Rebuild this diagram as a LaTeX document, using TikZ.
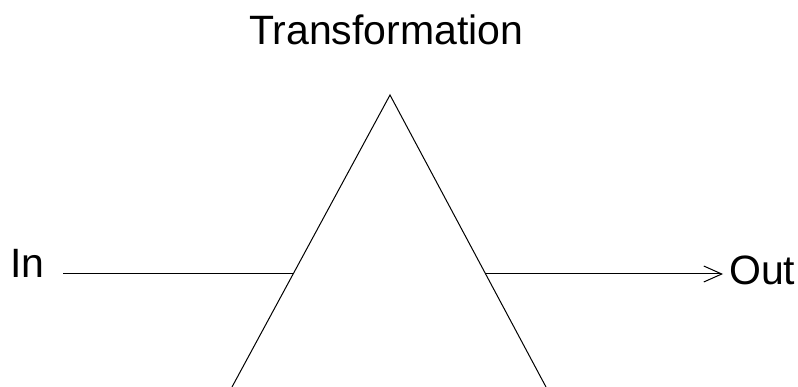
\documentclass[tikz,border=0pt]{standalone}
\usepackage{fontspec}
\setmainfont{Liberation Sans}
\usetikzlibrary{arrows.meta}
\begin{document}
\begin{tikzpicture}[x=1pt,y=-1pt,
  lbl/.style={inner sep=0pt, anchor=base west, font=\fontsize{41}{49}\selectfont},
  wire/.style={line width=1pt, black},
  arr/.style={wire, -{Straight Barb[length=18pt,width=16pt,line width=1pt]}}]
\useasboundingbox (0,0) rectangle (798,387);
\node[lbl] (title) at (249,45) {Transformation};
\node[lbl] (in) at (10,278) {In};
\node[lbl] (out) at (729,285) {Out};
\coordinate (apex) at (390,95);
\coordinate (bl) at (232,387);
\coordinate (br) at (546,387);
\coordinate (inStart) at (63,274);
\coordinate (inEnd) at (292.5,274);
\coordinate (outStart) at (485,274);
\coordinate (outEnd) at (723,274);
\begin{scope}
\clip (0,0) rectangle (798,387);
\draw[wire] (bl) -- (apex) -- (br);
\end{scope}
\draw[wire] (inStart) -- (inEnd);
\draw[arr] (outStart) -- (outEnd);
\end{tikzpicture}
\end{document}
